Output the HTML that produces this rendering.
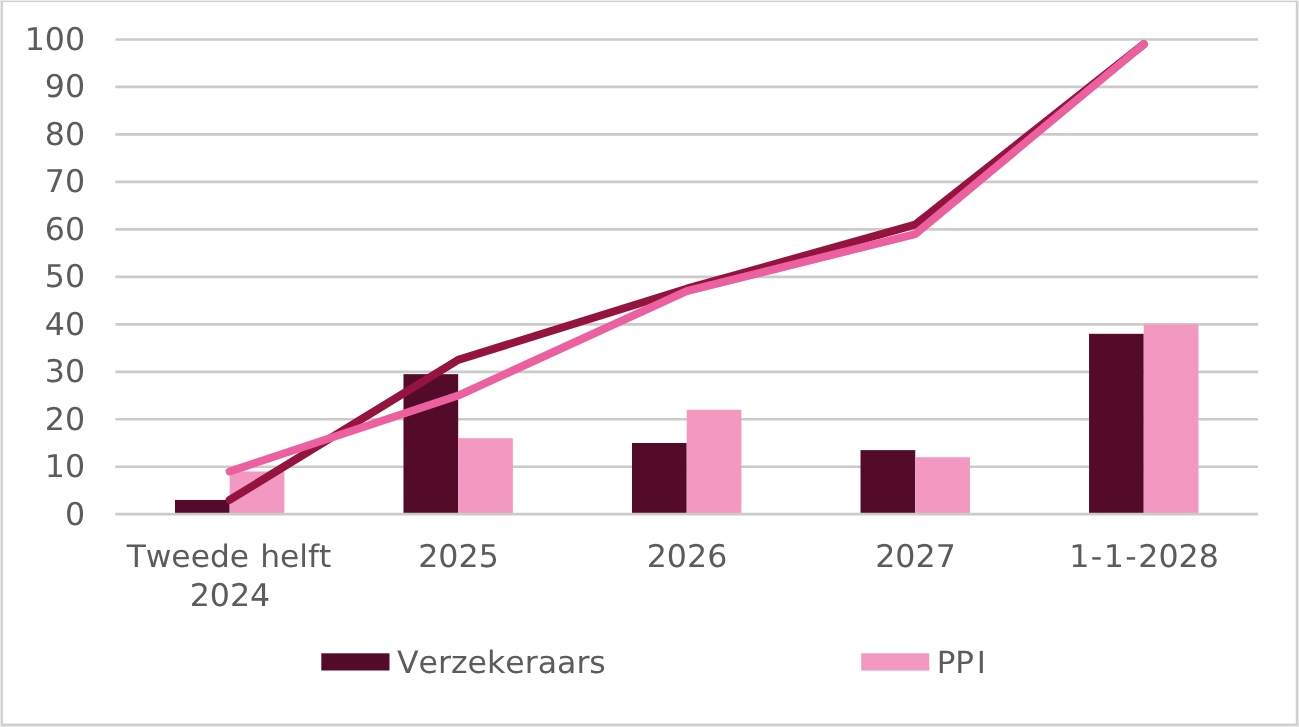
<!DOCTYPE html>
<html lang="nl">
<head>
<meta charset="utf-8">
<title>Verzekeraars en PPI</title>
<style>
html,body{margin:0;padding:0;background:#fff;}
body{width:1299px;height:727px;overflow:hidden;}
svg{display:block;}
text{font-kerning:none;text-rendering:geometricPrecision;font-family:"DejaVu Sans","Liberation Sans",sans-serif;font-size:31.0px;fill:#5c5c5c;}
text.d{font-size:31.3px;}
text.p{font-size:30.4px;}
</style>
</head>
<body>
<svg width="1299" height="727" viewBox="0 0 1299 727">
<rect x="0" y="0" width="1299" height="727" fill="#ebebeb"/>
<rect x="1" y="1" width="1297.1" height="725" fill="#d0d0d0"/>
<rect x="2.9" y="2.1" width="1292.9" height="721.4" fill="#ffffff"/>
<g stroke="#cbcbcb" stroke-width="2.7" fill="none">
<line x1="115.4" y1="466.73" x2="1258.0" y2="466.73"/>
<line x1="115.4" y1="419.26" x2="1258.0" y2="419.26"/>
<line x1="115.4" y1="371.79" x2="1258.0" y2="371.79"/>
<line x1="115.4" y1="324.32" x2="1258.0" y2="324.32"/>
<line x1="115.4" y1="276.85" x2="1258.0" y2="276.85"/>
<line x1="115.4" y1="229.38" x2="1258.0" y2="229.38"/>
<line x1="115.4" y1="181.91" x2="1258.0" y2="181.91"/>
<line x1="115.4" y1="134.44" x2="1258.0" y2="134.44"/>
<line x1="115.4" y1="86.97" x2="1258.0" y2="86.97"/>
<line x1="115.4" y1="39.50" x2="1258.0" y2="39.50"/>
</g>
<g fill="#540b2a">
<rect x="174.96" y="499.96" width="54.70" height="14.24"/>
<rect x="403.48" y="374.16" width="54.70" height="140.04"/>
<rect x="632.00" y="443.00" width="54.70" height="71.20"/>
<rect x="860.52" y="450.12" width="54.70" height="64.08"/>
<rect x="1089.04" y="333.81" width="54.70" height="180.39"/>
</g>
<g fill="#f399c1">
<rect x="229.66" y="471.48" width="54.70" height="42.72"/>
<rect x="458.18" y="438.25" width="54.70" height="75.95"/>
<rect x="686.70" y="409.77" width="54.70" height="104.43"/>
<rect x="915.22" y="457.24" width="54.70" height="56.96"/>
<rect x="1143.74" y="324.32" width="54.70" height="189.88"/>
</g>
<line x1="115.4" y1="514.2" x2="1258.0" y2="514.2" stroke="#cbcbcb" stroke-width="2.7"/>
<polyline points="229.66,499.96 458.18,359.92 686.70,288.72 915.22,224.63 1143.74,44.25" fill="none" stroke="#95143f" stroke-width="8" stroke-linecap="round" stroke-linejoin="round"/>
<polyline points="229.66,471.48 458.18,395.53 686.70,291.09 915.22,234.13 1143.74,44.25" fill="none" stroke="#ec609f" stroke-width="8" stroke-linecap="round" stroke-linejoin="round"/>
<text transform="translate(85.10 49.80) scale(1.012 1)" text-anchor="end" class="d">100</text>
<text transform="translate(85.10 97.27) scale(1.012 1)" text-anchor="end" class="d">90</text>
<text transform="translate(85.10 144.74) scale(1.012 1)" text-anchor="end" class="d">80</text>
<text transform="translate(85.10 192.21) scale(1.012 1)" text-anchor="end" class="d">70</text>
<text transform="translate(85.10 239.68) scale(1.012 1)" text-anchor="end" class="d">60</text>
<text transform="translate(85.10 287.15) scale(1.012 1)" text-anchor="end" class="d">50</text>
<text transform="translate(85.10 334.62) scale(1.012 1)" text-anchor="end" class="d">40</text>
<text transform="translate(85.10 382.09) scale(1.012 1)" text-anchor="end" class="d">30</text>
<text transform="translate(85.10 429.56) scale(1.012 1)" text-anchor="end" class="d">20</text>
<text transform="translate(85.10 477.03) scale(1.012 1)" text-anchor="end" class="d">10</text>
<text transform="translate(85.10 524.50) scale(1.012 1)" text-anchor="end" class="d">0</text>
<text transform="translate(228.96 566.80) scale(1.01 1)" text-anchor="middle" word-spacing="1.2">Tweede helft</text>
<text transform="translate(229.96 605.80) scale(1.012 1)" text-anchor="middle" class="d">2024</text>
<text transform="translate(458.48 566.70) scale(1.012 1)" text-anchor="middle" class="d">2025</text>
<text transform="translate(687.00 566.70) scale(1.012 1)" text-anchor="middle" class="d">2026</text>
<text transform="translate(915.52 566.70) scale(1.012 1)" text-anchor="middle" class="d">2027</text>
<text transform="translate(1144.04 566.70) scale(1.012 1)" text-anchor="middle" class="d" dx="0 1.45 1.45 1.45 1.45">1-1-2028</text>
<rect x="321.3" y="653.3" width="68.2" height="17.2" fill="#540b2a"/>
<text transform="translate(396.90 673.30) scale(1.019 1)" text-anchor="start">Verzekeraars</text>
<rect x="861.2" y="653.3" width="68" height="17.3" fill="#f399c1"/>
<text transform="translate(936.70 673.10) scale(1.018 1)" text-anchor="start" class="p" dx="0 0 2.6">PPI</text>
</svg>
</body>
</html>
